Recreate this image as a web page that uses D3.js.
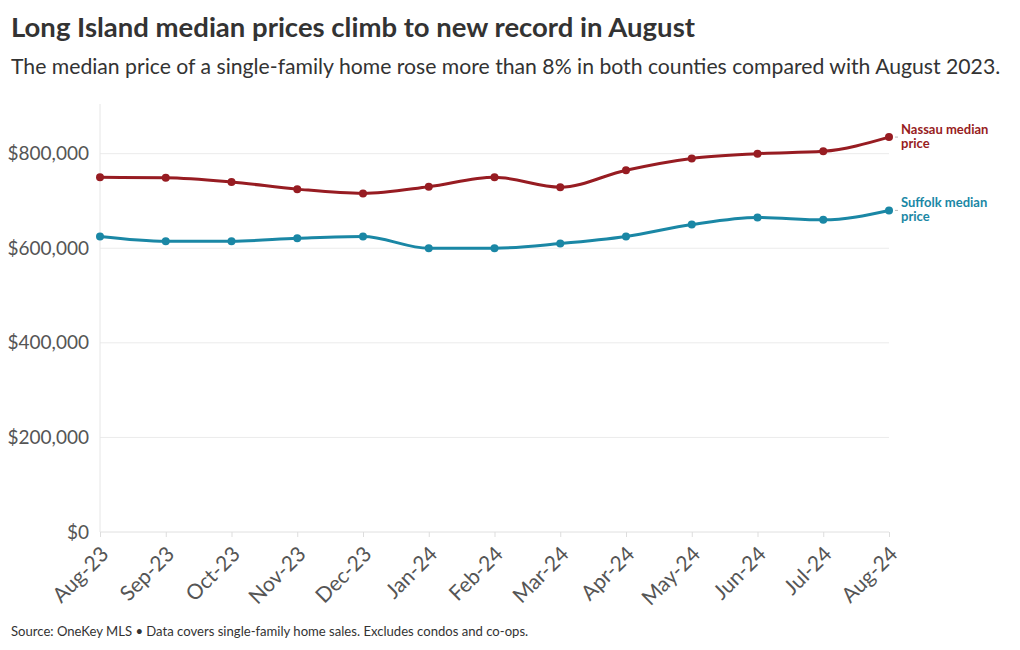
<!DOCTYPE html>
<html>
<head>
<meta charset="utf-8">
<script src="https://cdn.jsdelivr.net/npm/d3@7"></script>
<style>
  body { margin: 0; background: #fff; font-family: "Source Sans Pro", Lato, "Noto Sans", sans-serif; }
  .grid line { stroke: #ebebeb; }
  .axis path { display: none; }
</style>
</head>
<body>
<div id="chart"></div>
<script>
// data
const months = ["Aug-23","Sep-23","Oct-23","Nov-23","Dec-23","Jan-24","Feb-24","Mar-24","Apr-24","May-24","Jun-24","Jul-24","Aug-24"];
const nassau = [750000, 749000, 740000, 725000, 716000, 730000, 750000, 729000, 765000, 790000, 800000, 805000, 835000];
const suffolk = [625000, 615000, 615000, 621000, 625000, 600000, 600000, 610000, 625000, 650000, 665000, 660000, 680000];
const yTicks = [0, 200000, 400000, 600000, 800000];

const width = 1020;
const height = 650;
const margin = {top: 104, left: 100, right: 131, bottom: 118};
const font = "\"Source Sans Pro\", Lato, \"Noto Sans\", sans-serif";

const svg = d3.select("#chart")
    .append("svg")
    .attr("width", width)
    .attr("height", height);

const xScale = d3.scalePoint()
    .domain(months)
    .range([margin.left, width - margin.right]);

const yScale = d3.scaleLinear()
    .domain([0, 905000])
    .range([height - margin.bottom, margin.top]);

// title + subtitle
svg.append("text")
    .attr("x", 11).attr("y", 37)
    .attr("font-size", 27.5).attr("font-weight", 700)
    .attr("fill", "#333")
    .text("Long Island median prices climb to new record in August");

svg.append("text")
    .attr("x", 11).attr("y", 74)
    .attr("font-size", 21.2)
    .attr("fill", "#333")
    .text("The median price of a single-family home rose more than 8% in both counties compared with August 2023.");

// gridlines
svg.append("g")
    .attr("class", "grid")
    .selectAll("line")
    .data(yTicks.slice(1))
    .enter()
    .append("line")
    .attr("x1", margin.left).attr("x2", width - margin.right)
    .attr("y1", d => yScale(d)).attr("y2", d => yScale(d));

svg.append("line")
    .attr("x1", margin.left).attr("x2", width - margin.right)
    .attr("y1", yScale(0)).attr("y2", yScale(0))
    .attr("stroke", "#e0e0e0");

svg.append("line")
    .attr("x1", margin.left).attr("x2", margin.left)
    .attr("y1", margin.top).attr("y2", yScale(0))
    .attr("stroke", "#e6e6e6");

// y axis
const yAxis = svg.append("g")
    .attr("class", "axis")
    .attr("transform", `translate(${margin.left},0)`)
    .call(d3.axisLeft(yScale).tickValues(yTicks).tickSize(0).tickPadding(11)
        .tickFormat(d => "$" + d3.format(",")(d)));
yAxis.selectAll("text")
    .attr("font-size", 19)
    .attr("font-family", font)
    .attr("fill", "#555");

// x axis
const xAxis = svg.append("g")
    .attr("class", "axis")
    .attr("transform", `translate(0,${yScale(0)})`)
    .call(d3.axisBottom(xScale).tickSize(5).tickPadding(4));
xAxis.selectAll("line").attr("stroke", "#ddd");
xAxis.selectAll("text")
    .attr("font-size", 21)
    .attr("font-family", font)
    .attr("fill", "#555")
    .attr("text-anchor", "end")
    .attr("y", 0)
    .attr("dy", "0.35em")
    .attr("transform", "translate(0,14) rotate(-45) translate(0,6)");

// lines
const series = [
    {name: "Nassau", values: nassau, color: "#971c22", label: ["Nassau median", "price"]},
    {name: "Suffolk", values: suffolk, color: "#1a87a5", label: ["Suffolk median", "price"]}
];

const line = d3.line()
    .x((d, i) => xScale(months[i]))
    .y(d => yScale(d))
    .curve(d3.curveMonotoneX);

series.forEach(s => {
    svg.append("path")
        .datum(s.values)
        .attr("d", line)
        .attr("fill", "none")
        .attr("stroke", s.color)
        .attr("stroke-width", 3);

    svg.selectAll(null)
        .data(s.values)
        .enter()
        .append("circle")
        .attr("cx", (d, i) => xScale(months[i]))
        .attr("cy", d => yScale(d))
        .attr("r", 4)
        .attr("fill", s.color);

    const last = s.values[s.values.length - 1];
    const lx = xScale(months[months.length - 1]);
    const ly = yScale(last);

    svg.append("line")
        .attr("x1", lx + 6).attr("x2", lx + 9)
        .attr("y1", ly).attr("y2", ly)
        .attr("stroke", "#bbb");

    const t = svg.append("text")
        .attr("x", lx + 12)
        .attr("y", ly - 3)
        .attr("font-size", 13)
        .attr("font-weight", 700)
        .attr("fill", s.color);
    s.label.forEach((l, i) => {
        t.append("tspan")
            .attr("x", lx + 12)
            .attr("dy", i === 0 ? 0 : 14)
            .text(l);
    });
});

// footer
svg.append("text")
    .attr("x", 11).attr("y", 636)
    .attr("font-size", 13.1)
    .attr("fill", "#333")
    .text("Source: OneKey MLS \u2022 Data covers single-family home sales. Excludes condos and co-ops.");
</script>
</body>
</html>
